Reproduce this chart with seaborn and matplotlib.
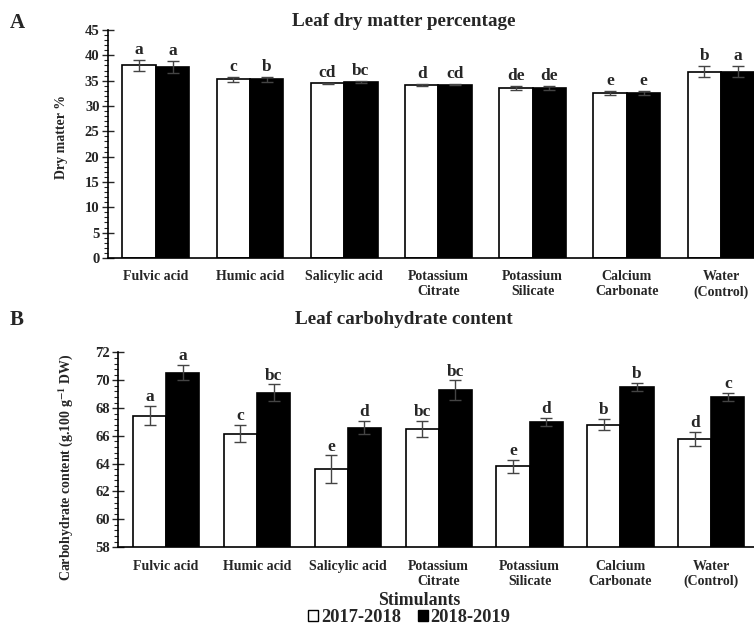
import numpy as np
import pandas as pd
import matplotlib
matplotlib.use('Agg')
import matplotlib.pyplot as plt
from matplotlib.patches import Patch
from matplotlib.ticker import MultipleLocator
import seaborn as sns

stimulants = ['Fulvic acid', 'Humic acid', 'Salicylic acid', 'Potassium\nCitrate',
              'Potassium\nSilicate', 'Calcium\nCarbonate', 'Water\n(Control)']
seasons = ['2017-2018', '2018-2019']

# leaf dry matter %
dm_1718 = [38.0, 35.3, 34.5, 34.2, 33.6, 32.6, 36.8]
dm_1819 = [37.7, 35.3, 34.8, 34.2, 33.6, 32.6, 36.8]
dm_err_1718 = [1.1, 0.5, 0.1, 0.2, 0.4, 0.4, 1.1]
dm_err_1819 = [1.1, 0.5, 0.2, 0.1, 0.4, 0.4, 1.1]
dm_let_1718 = ['a', 'c', 'cd', 'd', 'de', 'e', 'b']
dm_let_1819 = ['a', 'b', 'bc', 'cd', 'de', 'e', 'a']

# leaf carbohydrate content
ch_1718 = [67.45, 66.17, 63.6, 66.5, 63.8, 66.8, 65.77]
ch_1819 = [70.55, 69.1, 66.6, 69.3, 67.0, 69.5, 68.8]
ch_err_1718 = [0.7, 0.6, 1.0, 0.6, 0.5, 0.4, 0.5]
ch_err_1819 = [0.55, 0.6, 0.5, 0.7, 0.3, 0.3, 0.3]
ch_let_1718 = ['a', 'c', 'e', 'bc', 'e', 'b', 'd']
ch_let_1819 = ['a', 'bc', 'd', 'bc', 'd', 'b', 'c']

sns.set_theme(style='white')
plt.rcParams['font.family'] = ['Liberation Serif', 'DejaVu Serif']
plt.rcParams['font.weight'] = 'bold'
plt.rcParams['mathtext.fontset'] = 'stix'
plt.rcParams['mathtext.default'] = 'bf'

fig = plt.figure(figsize=(7.54, 6.26), dpi=100)
ax1 = fig.add_axes([0.143, 0.588, 0.857, 0.364])
ax2 = fig.add_axes([0.1565, 0.126, 0.8435, 0.311])


def draw(ax, v1, v2, e1, e2, l1, l2, ylim, major, minor, width, xlim, off):
    df = pd.DataFrame({
        'stim': stimulants * 2,
        'season': [seasons[0]] * 7 + [seasons[1]] * 7,
        'val': v1 + v2,
    })
    sns.barplot(data=df, x='stim', y='val', hue='season', order=stimulants,
                hue_order=seasons, palette=['white', 'black'], edgecolor='black',
                linewidth=1.2, width=width, errorbar=None, ax=ax, legend=False)
    for cont, vals, errs, lets in zip(ax.containers, [v1, v2], [e1, e2], [l1, l2]):
        xs = [b.get_x() + b.get_width() / 2 for b in cont]
        ax.errorbar(xs, vals, yerr=errs, fmt='none', ecolor='#444444',
                    elinewidth=1, capsize=4, capthick=1)
        for x, v, e, t in zip(xs, vals, errs, lets):
            ax.text(x, v + e + off, t, ha='center', va='bottom',
                    fontsize=12.5, fontweight='bold')
    ax.set_ylim(*ylim)
    ax.set_xlim(*xlim)
    ax.yaxis.set_major_locator(MultipleLocator(major))
    ax.yaxis.set_minor_locator(MultipleLocator(minor))
    ax.tick_params(axis='y', which='major', direction='inout', length=8,
                   width=1, labelsize=10.5, pad=2, left=True)
    ax.tick_params(axis='y', which='minor', direction='out', length=3,
                   width=0.8, left=True)
    ax.tick_params(axis='x', length=0, labelsize=10, pad=9)
    for lab in ax.get_xticklabels() + ax.get_yticklabels():
        lab.set_fontweight('bold')
    ax.set_xlabel('')
    for s in ['top', 'right']:
        ax.spines[s].set_visible(False)
    for s in ['left', 'bottom']:
        ax.spines[s].set_color('black')
        ax.spines[s].set_linewidth(1.2)


draw(ax1, dm_1718, dm_1819, dm_err_1718, dm_err_1819, dm_let_1718, dm_let_1819,
     (0, 45), 5, 1, 0.71, (-0.51, 6.35), 0.4)
ax1.set_ylabel('Dry matter %', fontsize=10, fontweight='bold')
ax1.yaxis.set_label_coords(-0.062, 0.53)

draw(ax2, ch_1718, ch_1819, ch_err_1718, ch_err_1819, ch_let_1718, ch_let_1819,
     (58, 72), 2, 0.4, 0.73, (-0.53, 6.47), 0.05)
ax2.set_ylabel('Carbohydrate content (g.100 g$^{-1}$ DW)', fontsize=10, fontweight='bold')
ax2.yaxis.set_label_coords(-0.068, 0.41)

fig.text(0.536, 0.965, 'Leaf dry matter percentage', ha='center', va='center',
         fontsize=13.8, fontweight='bold')
fig.text(0.536, 0.489, 'Leaf carbohydrate content', ha='center', va='center',
         fontsize=13.8, fontweight='bold')
fig.text(0.013, 0.963, 'A', ha='left', va='center', fontsize=15, fontweight='bold')
fig.text(0.013, 0.489, 'B', ha='left', va='center', fontsize=15, fontweight='bold')
fig.text(0.556, 0.041, 'Stimulants', ha='center', va='center', fontsize=12.8,
         fontweight='bold')

handles = [Patch(facecolor='white', edgecolor='black', linewidth=1, label=seasons[0]),
           Patch(facecolor='black', edgecolor='black', linewidth=1, label=seasons[1])]
fig.legend(handles=handles, loc='center', bbox_to_anchor=(0.543, 0.013), ncol=2,
           frameon=False, handlelength=0.55, handleheight=0.55, handletextpad=0.15,
           columnspacing=0.9, prop={'size': 13.3, 'weight': 'bold'})

fig.savefig('out.png', dpi=100)
